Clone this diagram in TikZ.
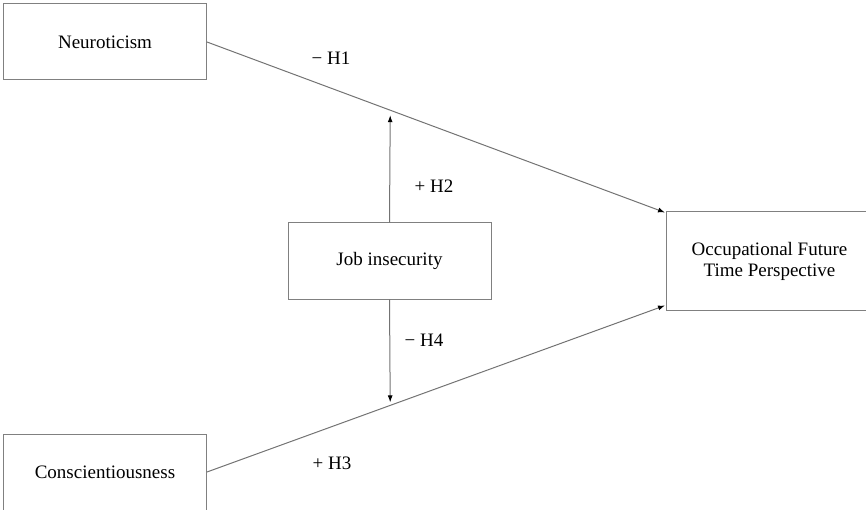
\documentclass[tikz,border=0pt]{standalone}
\usepackage{fontspec}
\setmainfont{Liberation Serif}
\usetikzlibrary{arrows.meta}
\tikzset{
	varbox/.style={draw=black!50,line width=1pt,minimum width=203pt,minimum height=76pt,inner sep=0pt,font=\fontsize{19}{21}\selectfont,align=center},
	path/.style={draw=black!55,line width=1pt,-{Latex[length=7pt,width=5pt,color=black]}},
	hyp/.style={font=\fontsize{19}{21}\selectfont}
}
\begin{document}
\begin{tikzpicture}[x=1pt,y=-1pt]
	\useasboundingbox (0,0) rectangle (866,510);
	\clip (0,0) rectangle (866,510);
	\node[varbox] (neuro) at (105,42) {Neuroticism};
	\node[varbox] (consc) at (105,472) {Conscientiousness};
	\node[varbox] (job) at (389.5,261) {Job insecurity};
	\node[varbox,anchor=west,minimum width=206pt,minimum height=98pt] (oftp) at (666,261) {Occupational Future\\Time Perspective};
	\coordinate (top) at ([xshift=-1pt,yshift=-1pt]oftp.north west);
	\coordinate (bot) at ([xshift=-1pt,yshift=5pt]oftp.south west);
	\draw[path] (neuro.east) -- coordinate[pos=0.4] (h1mod) (top);
	\draw[path] (consc.east) -- coordinate[pos=0.4] (h3mod) (bot);
	\draw[path] (job.north) -- ([yshift=-5pt]h1mod);
	\draw[path] (job.south) -- ([yshift=3pt]h3mod);
	\node[hyp] (h1) at (331,58) {−~H1};
	\node[hyp] (h2) at (434,186) {+~H2};
	\node[hyp] (h3) at (332,463) {+~H3};
	\node[hyp] (h4) at (424,340) {−~H4};
\end{tikzpicture}
\end{document}
